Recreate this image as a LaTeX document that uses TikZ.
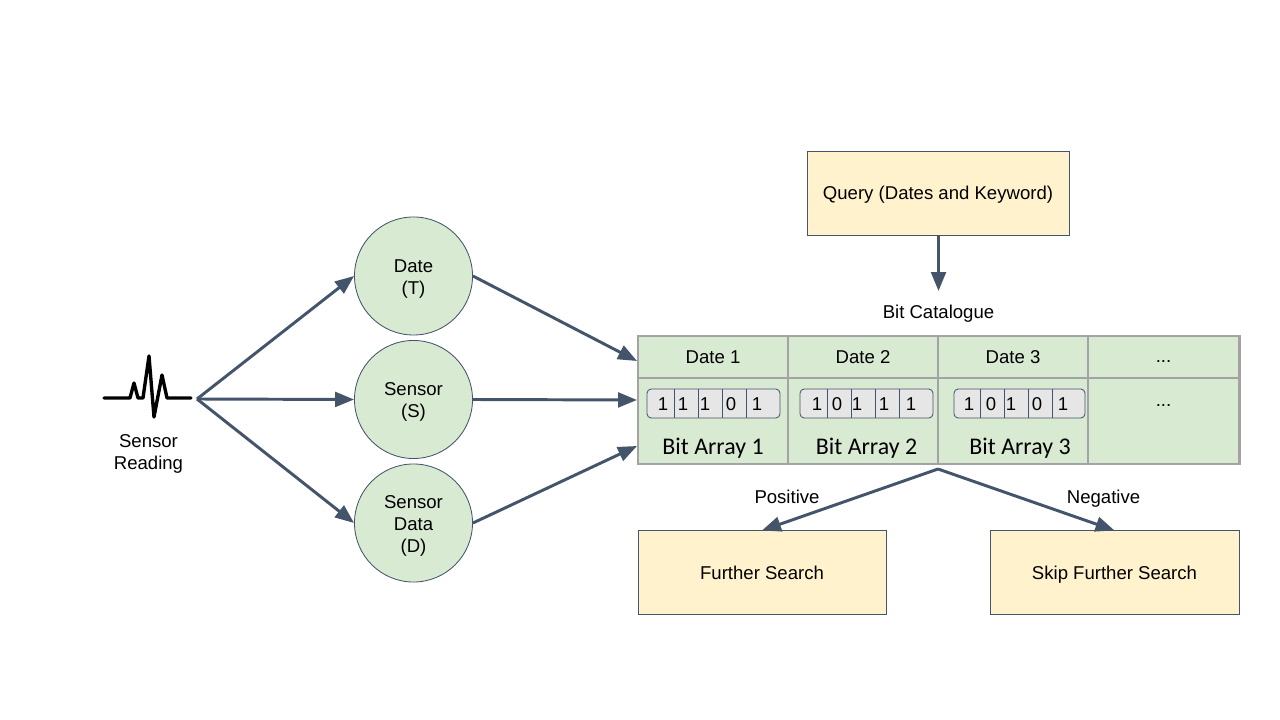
\documentclass[tikz,border=0pt]{standalone}
\usepackage{fontspec}
\setmainfont{Liberation Sans}
\newfontfamily\arrayfont{Carlito}
\usetikzlibrary{arrows.meta}
\definecolor{cellgreen}{HTML}{D9EAD3}
\definecolor{boxyellow}{HTML}{FFF2CC}
\definecolor{arrowblue}{HTML}{44546A}
\definecolor{cellgrey}{HTML}{A3A3A3}
\definecolor{bitgrey}{HTML}{E7E6E6}
\tikzset{
  flow/.style={draw=arrowblue,line width=2.1pt,-{Triangle[length=13.5pt,width=10.5pt]}},
  field/.style={circle,draw=arrowblue,line width=0.6pt,fill=cellgreen,minimum size=2.95cm,inner sep=0pt,align=center,text height=28.5pt},
  panel/.style={draw=arrowblue,line width=0.6pt,fill=boxyellow,inner sep=0pt,text height=10.2pt,text depth=0pt},
  cell/.style={draw=cellgrey,line width=2.1pt,fill=cellgreen,inner sep=0pt},
  label/.style={inner sep=0pt,align=center},
  bits/.style={draw=arrowblue,line width=0.6pt,fill=bitgrey,rounded corners=3pt},
  arraytext/.style={inner sep=0pt,font=\arrayfont\fontsize{17}{20}\selectfont},
  font=\fontsize{13.2}{15.6}\selectfont
}
% one bit array: left, right, dividers, then position/bit pairs
\newcommand{\bitarray}[4]{
  \draw [bits] (#1,389) rectangle (#2,418);
  \foreach \x in {#3}
    \draw [arrowblue,line width=0.6pt] (\x,389) -- (\x,418);
  \foreach \x/\b in {#4}
    \node [label] at (\x,404) {\b};
}
\begin{document}
\begin{tikzpicture}[x=0.025cm,y=-0.025cm]
  \useasboundingbox (0,0) rectangle (1280,720);

  % sensor trace
  \draw [line width=2.4pt,line join=round,line cap=round]
    (104,398) -- (130,398) -- (134,383) -- (138,398) -- (143,398) -- (149,356)
    -- (154,417) -- (162,375) -- (167,398) -- (191,398);
  \coordinate (hub) at (197,399);
  \node [label] (reading) at (148.5,454) {Sensor\\Reading};

  % fields
  \node [field] (date) at (413.5,276) {Date\\(T)};
  \node [field] (sensor) at (413.5,399.5) {Sensor\\(S)};
  \node [field,text height=45pt] (data) at (413.5,523) {Sensor\\Data\\(D)};

  \draw [flow] (hub) -- (date.west);
  \draw [flow] (hub) -- (sensor.west);
  \draw [flow] (hub) -- (data.west);

  % catalogue table
  \node [cell,minimum width=3.75cm,minimum height=1.05cm] (head1) at (713,357) {Date 1};
  \node [cell,minimum width=3.75cm,minimum height=1.05cm] (head2) at (863,357) {Date 2};
  \node [cell,minimum width=3.75cm,minimum height=1.05cm] (head3) at (1013,357) {Date 3};
  \node [cell,minimum width=3.775cm,minimum height=1.05cm] (head4) at (1163.5,357) {};
  \node [cell,minimum width=3.75cm,minimum height=2.15cm] (body1) at (713,421) {};
  \node [cell,minimum width=3.75cm,minimum height=2.15cm] (body2) at (863,421) {};
  \node [cell,minimum width=3.75cm,minimum height=2.15cm] (body3) at (1013,421) {};
  \node [cell,minimum width=3.775cm,minimum height=2.15cm] (body4) at (1163.5,421) {};
  \node [label] (morehead) at (1163.5,362) {...};
  \node [label] (morebody) at (1163.5,406) {...};

  \bitarray{647}{780}{674,698,722,746}{663/1,683/1,705/1,731/0,757/1}
  \bitarray{800}{933}{827,851,875,899}{817/1,837/0,857/1,884/1,911/1}
  \bitarray{954}{1085}{980,1004,1028,1052}{969/1,991/0,1011/1,1037/0,1063/1}

  \node [arraytext] (array1) at (713,448) {Bit Array 1};
  \node [arraytext] (array2) at (866.5,448) {Bit Array 2};
  \node [arraytext] (array3) at (1020,448) {Bit Array 3};

  \coordinate (inT) at (637,361);
  \coordinate (inS) at (637,400);
  \coordinate (inD) at (637,446);
  \draw [flow] (date.east) -- (inT);
  \draw [flow] (sensor.east) -- (inS);
  \draw [flow] (data.east) -- (inD);

  % query
  \node [panel,text height=8.8pt,minimum width=6.55cm,minimum height=2.1cm] (query) at (938,193) {Query (Dates and Keyword)};
  \node [label] (catalogue) at (938.5,314) {Bit Catalogue};
  \coordinate (qend) at (938.5,291);
  \draw [flow] (query.south -| qend) -- (qend);

  % outcomes
  \node [panel,minimum width=6.2cm,minimum height=2.08cm] (further) at (762,572.5) {Further Search};
  \node [panel,minimum width=6.22cm,minimum height=2.08cm] (skip) at (1114.5,572.5) {Skip Further Search};
  \coordinate (split) at (938,469);
  \draw [flow] (split) -- (further.north);
  \draw [flow] (split) -- (skip.north);
  \node [label] (positive) at (787,497) {Positive};
  \node [label] (negative) at (1103.5,498.5) {Negative};
\end{tikzpicture}
\end{document}
